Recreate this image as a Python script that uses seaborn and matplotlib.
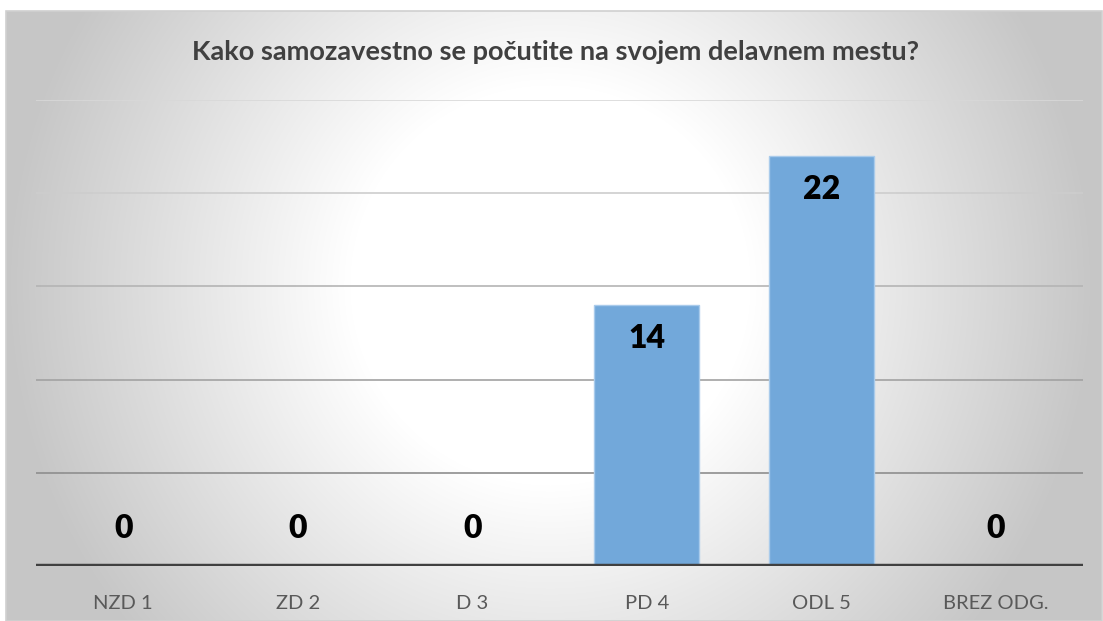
import numpy as np
import pandas as pd
import matplotlib
matplotlib.use("Agg")
import matplotlib.pyplot as plt
from matplotlib.patches import Rectangle
import seaborn as sns

# ---- data ----
categories = ["NZD 1", "ZD 2", "D 3", "PD 4", "ODL 5", "BREZ ODG."]
values = [0, 0, 0, 14, 22, 0]
title = "Kako samozavestno se počutite na svojem delavnem mestu?"
y_ticks = [5, 10, 15, 20, 25]

sns.set_theme(style="white")
plt.rcParams["font.family"] = ["Lato", "DejaVu Sans"]

W, H = 1103, 621
fig = plt.figure(figsize=(W / 100, H / 100), dpi=100)
fig.patch.set_facecolor("white")

# background frame with radial gradient
fx0, fy0, fx1, fy1 = 6, 11, 1102, 621  # pixel frame (top-left origin)
bg = fig.add_axes([fx0 / W, 1 - fy1 / H, (fx1 - fx0) / W, (fy1 - fy0) / H])
bg.set_zorder(0)
xs = np.arange(fx0, fx1)
ys = np.arange(fy0, fy1)
X, Y = np.meshgrid(xs, ys)
d = np.hypot(X - 550, Y - 285)
v = 1.0 - 0.22 * np.clip((d - 200) / 340.0, 0, 1)
bg.imshow(np.dstack([v, v, v]), aspect="auto", extent=[0, 1, 0, 1], origin="upper")
bg.set_xlim(0, 1)
bg.set_ylim(0, 1)
bg.axis("off")
bg.add_patch(Rectangle((0, 0), 1, 1, transform=bg.transAxes, fill=False,
                       edgecolor="#d0d0d0", linewidth=1.2, clip_on=False))

# main plot
L, R, B, T = 36, 1083, 566, 100
ax = fig.add_axes([L / W, 1 - B / H, (R - L) / W, (B - T) / H])
ax.set_zorder(1)
ax.patch.set_alpha(0)

df = pd.DataFrame({"cat": categories, "val": values})
sns.barplot(data=df, x="cat", y="val", order=categories, color="#72a8da",
            saturation=1, width=0.6, edgecolor="#a9cbeb", linewidth=1, ax=ax,
            zorder=3)

ax.set_ylim(0, 25)
ax.set_xlim(-0.5, len(categories) - 0.5)

grid_colors = {5: "#8e8e8e", 10: "#a2a2a2", 15: "#b4b4b4", 20: "#cdcdcd", 25: "#d8d8d8"}
for yt in y_ticks:
    ax.axhline(yt, color=grid_colors[yt], linewidth=1.2, zorder=1)
ax.axhline(0, color="#404040", linewidth=3.2, zorder=4)

for s in ax.spines.values():
    s.set_visible(False)
ax.set_yticks([])
ax.set_xlabel("")
ax.set_ylabel("")
ax.tick_params(axis="x", length=0, pad=21, labelsize=14.5, labelcolor="#595959")

for i, val in enumerate(values):
    off = -24 if val > 0 else 27
    ax.annotate(str(val), (i, val), xytext=(0, off), textcoords="offset points",
                ha="center", va="center", fontsize=23, fontweight="heavy",
                color="black", zorder=5)

fig.text(555 / W, 1 - 52 / H, title, ha="center", va="center", fontsize=19.5,
         fontweight="bold", color="#404040", zorder=5)

fig.savefig("out.png", dpi=100, facecolor="white")
